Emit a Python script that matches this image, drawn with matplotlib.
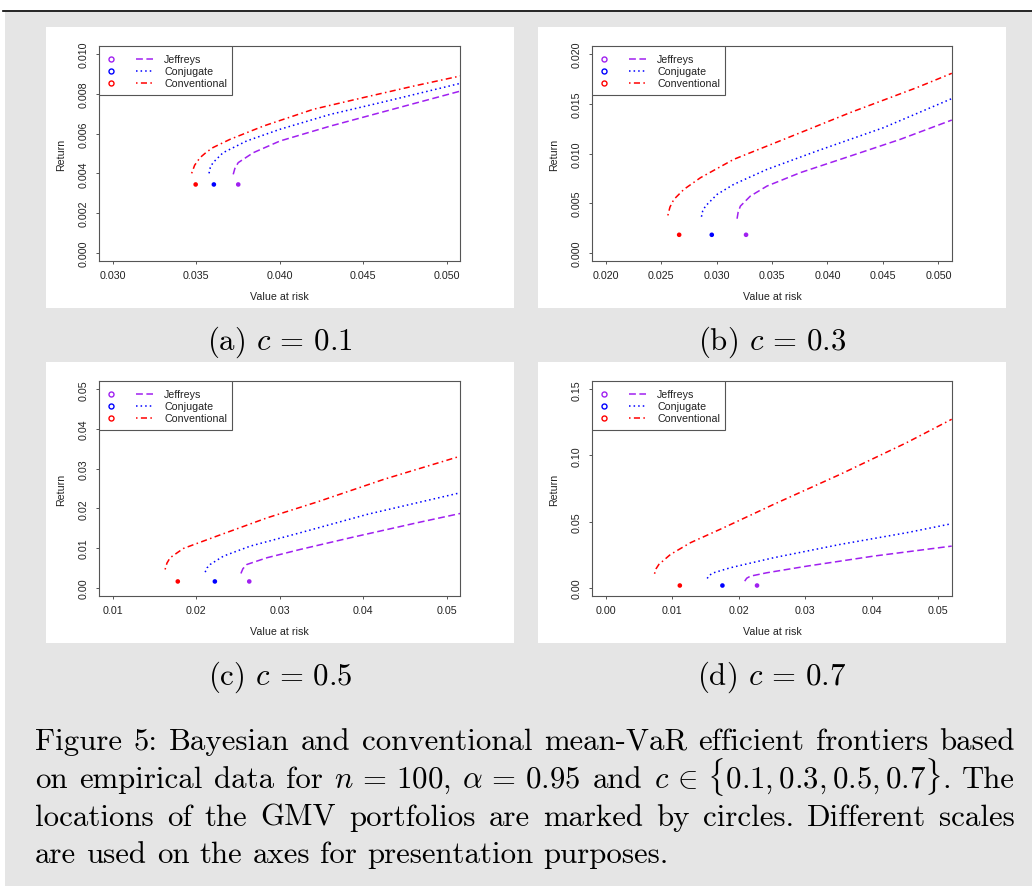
import matplotlib
matplotlib.use("Agg")
import matplotlib.pyplot as plt
from matplotlib.patches import Rectangle
from matplotlib.ticker import FormatStrFormatter

# ---------------- data ----------------
priors = ["Jeffreys", "Conjugate", "Conventional"]
prior_colors = ["#A020F0", "#0000FF", "#FF0000"]

# (a) c = 0.1
a_jef_x = [0.03722, 0.03732, 0.03752, 0.03842, 0.04002, 0.04303, 0.04603, 0.05085]
a_jef_y = [0.00395, 0.00425, 0.00454, 0.00504, 0.00563, 0.00638, 0.00706, 0.00815]
a_con_x = [0.03577, 0.03585, 0.03601, 0.03661, 0.03802, 0.04002, 0.04303, 0.04603, 0.05085]
a_con_y = [0.00400, 0.00430, 0.00454, 0.00504, 0.00563, 0.00622, 0.00697, 0.00756, 0.00854]
a_cnv_x = [0.03473, 0.03491, 0.03523, 0.03562, 0.03601, 0.03702, 0.03902, 0.04203, 0.04503, 0.04804, 0.05085]
a_cnv_y = [0.00400, 0.00441, 0.00479, 0.00507, 0.00530, 0.00571, 0.00638, 0.00723, 0.00782, 0.00840, 0.00891]
a_gmv_x = [0.03752, 0.03606, 0.03497]
a_gmv_y = [0.00344, 0.00344, 0.00344]

# (b) c = 0.3
b_jef_x = [0.03185, 0.03195, 0.03215, 0.03305, 0.03455, 0.03755, 0.04205, 0.04655, 0.05121]
b_jef_y = [0.00343, 0.00410, 0.00470, 0.00571, 0.00672, 0.00807, 0.00974, 0.01142, 0.01337]
b_con_x = [0.02864, 0.02875, 0.02900, 0.03005, 0.03155, 0.03455, 0.03905, 0.04505, 0.05121]
b_con_y = [0.00363, 0.00420, 0.00470, 0.00588, 0.00689, 0.00840, 0.01025, 0.01260, 0.01553]
b_cnv_x = [0.02561, 0.02580, 0.02615, 0.02705, 0.02855, 0.03155, 0.03605, 0.04205, 0.04806, 0.05121]
b_cnv_y = [0.00376, 0.00460, 0.00537, 0.00638, 0.00756, 0.00941, 0.01142, 0.01412, 0.01664, 0.01808]
b_gmv_x = [0.03266, 0.02957, 0.02663]
b_gmv_y = [0.00181, 0.00181, 0.00181]

# (c) c = 0.5
c_jef_x = [0.02536, 0.02560, 0.02608, 0.02848, 0.03248, 0.03848, 0.04648, 0.05168]
c_jef_y = [0.00360, 0.00480, 0.00587, 0.00756, 0.00966, 0.01260, 0.01638, 0.01873]
c_con_x = [0.02108, 0.02130, 0.02168, 0.02327, 0.02648, 0.03248, 0.04048, 0.05168]
c_con_y = [0.00393, 0.00500, 0.00587, 0.00797, 0.01049, 0.01386, 0.01848, 0.02395]
c_cnv_x = [0.01628, 0.01650, 0.01688, 0.01847, 0.02248, 0.02848, 0.03448, 0.04247, 0.05168]
c_cnv_y = [0.00461, 0.00620, 0.00756, 0.00990, 0.01301, 0.01760, 0.02160, 0.02730, 0.03317]
c_gmv_x = [0.02636, 0.02224, 0.01780]
c_gmv_y = [0.00159, 0.00159, 0.00159]

# (d) c = 0.7
d_jef_x = [0.02090, 0.02120, 0.02175, 0.02425, 0.03025, 0.04025, 0.05200]
d_jef_y = [0.00499, 0.00720, 0.00877, 0.01135, 0.01634, 0.02390, 0.03147]
d_con_x = [0.01526, 0.01560, 0.01625, 0.01875, 0.02525, 0.03525, 0.04525, 0.05200]
d_con_y = [0.00703, 0.00950, 0.01135, 0.01513, 0.02269, 0.03275, 0.04160, 0.04841]
d_cnv_x = [0.00735, 0.00760, 0.00800, 0.00975, 0.01275, 0.01775, 0.02525, 0.03525, 0.04525, 0.05200]
d_cnv_y = [0.01059, 0.01450, 0.01762, 0.02519, 0.03404, 0.04539, 0.06301, 0.08570, 0.10968, 0.12731]
d_gmv_x = [0.02275, 0.01755, 0.01115]
d_gmv_y = [0.00170, 0.00170, 0.00170]

# axis ticks
a_xticks = [0.030, 0.035, 0.040, 0.045, 0.050]
a_yticks = [0.000, 0.002, 0.004, 0.006, 0.008, 0.010]
b_xticks = [0.020, 0.025, 0.030, 0.035, 0.040, 0.045, 0.050]
b_yticks = [0.000, 0.005, 0.010, 0.015, 0.020]
c_xticks = [0.01, 0.02, 0.03, 0.04, 0.05]
c_yticks = [0.00, 0.01, 0.02, 0.03, 0.04, 0.05]
d_xticks = [0.00, 0.01, 0.02, 0.03, 0.04, 0.05]
d_yticks = [0.00, 0.05, 0.10, 0.15]

subcaptions = [r"(a) $c \,=\, 0.1$", r"(b) $c \,=\, 0.3$",
               r"(c) $c \,=\, 0.5$", r"(d) $c \,=\, 0.7$"]

caption_lines = [
    ["Figure", "5:", "Bayesian", "and", "conventional", "mean-VaR", "efficient",
     "frontiers", "based"],
    ["on", "empirical", "data", "for", r"$n \,=\, 100$,", r"$\alpha \,=\, 0.95$", "and",
     r"$c \,\in\, \{0.1, 0.3, 0.5, 0.7\}$.", "The"],
    ["locations", "of", "the", "GMV", "portfolios", "are", "marked", "by", "circles.",
     "Different", "scales"],
    ["are", "used", "on", "the", "axes", "for", "presentation", "purposes."],
]

# ---------------- styling ----------------
plt.rcParams["font.family"] = ["Liberation Sans", "DejaVu Sans"]
plt.rcParams["mathtext.fontset"] = "cm"

W, H = 1032, 887
GRAY = "#e5e5e5"
FRAME = "#555555"
FS = 7.7
CAP_FS = 22.2
line_styles = [(0, (4.5, 2.3)), (0, (1.0, 2.0)), (0, (1.0, 2.2, 4.0, 2.2))]

fig = plt.figure(figsize=(W / 100, H / 100), dpi=100)
bg = fig.add_axes([0, 0, 1, 1])
bg.set_xlim(0, W)
bg.set_ylim(H, 0)
bg.axis("off")

bg.add_patch(Rectangle((5, 13), W - 5, H - 13, color=GRAY, lw=0))
bg.plot([3, W], [12, 12], color="black", lw=1.2)

panel_boxes = [(46, 28), (538, 28), (46, 363), (538, 363)]
for (px, py) in panel_boxes:
    bg.add_patch(Rectangle((px, py), 468, 281, color="white", lw=0))

# axes in pixel coordinates: left, top, right, bottom
ax_px = [(99.3, 47.3, 460.0, 261.7), (592.3, 47.3, 951.7, 261.7),
         (99.3, 382.3, 460.0, 596.7), (592.3, 382.3, 951.7, 596.7)]

panels = [
    ([(a_jef_x, a_jef_y), (a_con_x, a_con_y), (a_cnv_x, a_cnv_y)], a_gmv_x, a_gmv_y,
     a_xticks, a_yticks, "%.3f"),
    ([(b_jef_x, b_jef_y), (b_con_x, b_con_y), (b_cnv_x, b_cnv_y)], b_gmv_x, b_gmv_y,
     b_xticks, b_yticks, "%.3f"),
    ([(c_jef_x, c_jef_y), (c_con_x, c_con_y), (c_cnv_x, c_cnv_y)], c_gmv_x, c_gmv_y,
     c_xticks, c_yticks, "%.2f"),
    ([(d_jef_x, d_jef_y), (d_con_x, d_con_y), (d_cnv_x, d_cnv_y)], d_gmv_x, d_gmv_y,
     d_xticks, d_yticks, "%.2f"),
]

for (l, t, r, b), (curves, gx, gy, xt, yt, fmt) in zip(ax_px, panels):
    ax = fig.add_axes([l / W, 1 - b / H, (r - l) / W, (b - t) / H])
    w_px, h_px = r - l, b - t

    for (x, y), col, ls in zip(curves, prior_colors, line_styles):
        ax.plot(x, y, color=col, ls=ls, lw=1.1)
    ax.scatter(gx, gy, c=prior_colors, s=11, zorder=3, linewidths=0)

    # R-style 4% padding around the axis range
    xr = xt[-1] - xt[0]
    yr = yt[-1] - yt[0]
    ax.set_xlim(xt[0] - 0.04 * xr, xt[-1] + 0.04 * xr)
    ax.set_ylim(yt[0] - 0.04 * yr, yt[-1] + 0.04 * yr)
    ax.set_xticks(xt)
    ax.set_yticks(yt)
    ax.xaxis.set_major_formatter(FormatStrFormatter(fmt))
    ax.set_yticklabels([fmt % v for v in yt], rotation=90, va="center")
    ax.tick_params(axis="both", length=2.5, width=0.7, color=FRAME, labelsize=FS,
                   labelcolor="#222222")
    ax.tick_params(axis="x", pad=4.0)
    ax.tick_params(axis="y", pad=5.0)
    for sp in ax.spines.values():
        sp.set_color(FRAME)
        sp.set_linewidth(0.8)

    ax.set_xlabel("Value at risk", fontsize=FS, va="center", color="#222222")
    ax.xaxis.set_label_coords(0.5, -35.0 / h_px)
    ax.set_ylabel("Return", fontsize=FS, va="center", color="#222222")
    ax.yaxis.set_label_coords(-38.6 / w_px, 0.5)

    # legend box drawn R-style: point column + line column
    ax.add_patch(Rectangle((0, 1 - 48.7 / h_px), 132.4 / w_px, 48.7 / h_px,
                           transform=ax.transAxes, facecolor="white",
                           edgecolor=FRAME, lw=0.8, zorder=4))
    for i, (name, col, ls) in enumerate(zip(priors, prior_colors, line_styles)):
        ry = 1 - (13.0 + 11.9 * i) / h_px
        ax.plot([11.5 / w_px], [ry], "o", mfc="none", mec=col, ms=3.6, mew=1.0,
                transform=ax.transAxes, zorder=5)
        ax.plot([37.0 / w_px, 53.5 / w_px], [ry, ry], color=col, ls=ls, lw=1.1,
                transform=ax.transAxes, zorder=5)
        ax.text(64.8 / w_px, ry, name, transform=ax.transAxes, fontsize=FS,
                va="center", ha="left", color="#222222", zorder=5)

# sub-captions
for (px, py), txt in zip(panel_boxes, subcaptions):
    bg.text(px + 234, py + 322, txt, family="cmr10", fontsize=CAP_FS,
            ha="center", va="baseline")

# justified figure caption
renderer = fig.canvas.get_renderer()
left, right = 35.0, 1015.0
baselines = [750, 788, 826, 863]
space_w = 0.333 * CAP_FS * 100 / 72
for li, (tokens, yb) in enumerate(zip(caption_lines, baselines)):
    arts = [bg.text(0, yb, tok, family="cmr10", fontsize=CAP_FS, va="baseline", ha="left")
            for tok in tokens]
    widths = [a.get_window_extent(renderer).width for a in arts]
    if li < len(caption_lines) - 1:
        gap = (right - left - sum(widths)) / (len(tokens) - 1)
    else:
        gap = space_w
    x = left
    for a, wd in zip(arts, widths):
        a.set_x(x)
        x += wd + gap

fig.savefig("out.png", dpi=100, facecolor="white")
